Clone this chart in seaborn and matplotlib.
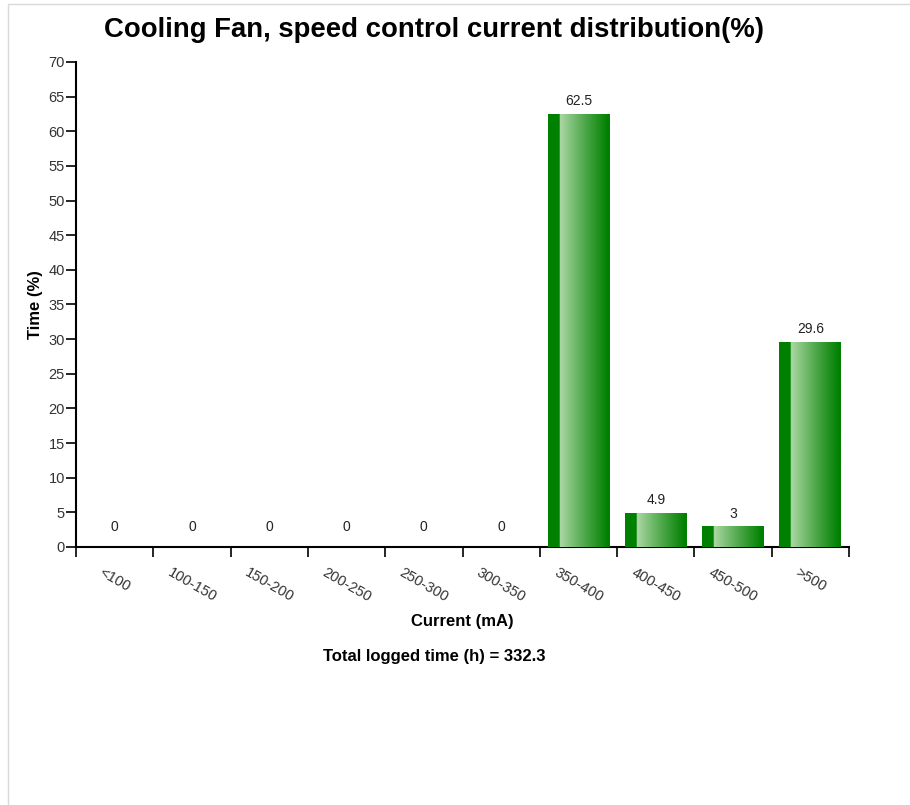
import numpy as np
import pandas as pd
import matplotlib
matplotlib.use('Agg')
import matplotlib.pyplot as plt
from matplotlib.patches import Rectangle
import seaborn as sns

# ── data
categories = ['<100', '100-150', '150-200', '200-250', '250-300',
              '300-350', '350-400', '400-450', '450-500', '>500']
time_pct = [0, 0, 0, 0, 0, 0, 62.5, 4.9, 3, 29.6]
total_hours = 332.3

df = pd.DataFrame({'Current': categories, 'Time': time_pct})

sns.set_theme(style='white')
plt.rcParams['font.family'] = ['Liberation Sans', 'DejaVu Sans']
plt.rcParams['text.color'] = 'black'
plt.rcParams['axes.labelcolor'] = 'black'

fig = plt.figure(figsize=(9.1, 8.05), dpi=100)
ax = fig.add_axes([0.0835, 0.3205, 0.8495, 0.6025])

sns.barplot(data=df, x='Current', y='Time', color='#008000', width=0.8,
            saturation=1, ax=ax, edgecolor='none')

# gradient fill on each bar: dark strip on the left, then light -> dark
dark = np.array([0, 128, 0]) / 255
light = np.array([176, 218, 168]) / 255
xs = np.linspace(0, 1, 200)
grad = np.zeros((1, len(xs), 3))
for i, t in enumerate(xs):
    if t < 0.19:
        grad[0, i] = dark
    else:
        f = min((t - 0.19) / 0.78, 1) ** 0.9
        grad[0, i] = light * (1 - f) + dark * f

for bar in ax.patches:
    h = bar.get_height()
    if h <= 0:
        continue
    x0 = bar.get_x()
    w = bar.get_width()
    im = ax.imshow(grad, extent=[x0, x0 + w, 0, h], aspect='auto',
                   interpolation='bilinear', zorder=3)
    im.set_clip_path(bar)

ax.set_xlim(-0.5, len(categories) - 0.5)
ax.set_ylim(0, 70)
ax.set_yticks(range(0, 71, 5))

# value labels
for i, v in enumerate(time_pct):
    off = 9 if v == 0 else 4
    ax.annotate(f'{v:g}', (i, v), xytext=(0, off), textcoords='offset points',
                ha='center', va='bottom', fontsize=10, color='#222222', zorder=4)

for s in ['top', 'right']:
    ax.spines[s].set_visible(False)
for s in ['left', 'bottom']:
    ax.spines[s].set_color('black')
    ax.spines[s].set_linewidth(1.5)

ax.tick_params(axis='y', which='major', length=7, width=1.2, color='black',
               direction='out', left=True, labelsize=10.5, labelcolor='#333333', pad=1)
ax.set_xticks(range(len(categories)))
ax.set_xticklabels(categories, rotation=-30, ha='center', va='top',
                   fontsize=10.5, color='#333333')
ax.tick_params(axis='x', which='major', length=0, pad=13)
ax.set_xticks(np.arange(-0.5, len(categories), 1), minor=True)
ax.tick_params(axis='x', which='minor', length=7, width=1.2, color='black',
               direction='out', bottom=True)

ax.set_xlabel('Current (mA)', fontsize=12, fontweight='bold', labelpad=7)
ax.set_ylabel('Time (%)', fontsize=12, fontweight='bold', labelpad=4)

fig.text(0.477, 0.963, 'Cooling Fan, speed control current distribution(%)',
         ha='center', va='center', fontsize=19.8, fontweight='bold', color='black')
fig.text(0.477, 0.185, f'Total logged time (h) = {total_hours}',
         ha='center', va='center', fontsize=12, fontweight='bold', color='black')

# light page frame
fig.patches.append(Rectangle((0.009, -0.01), 1.2, 1.005, transform=fig.transFigure,
                             fill=False, edgecolor='#d9d9d9', linewidth=1))

fig.savefig('out.png', dpi=100)
